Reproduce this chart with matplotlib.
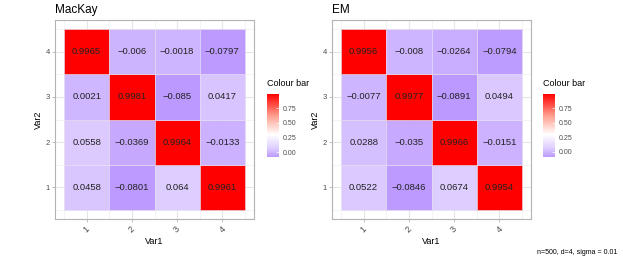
import numpy as np
import matplotlib
matplotlib.use('Agg')
import matplotlib.pyplot as plt
from matplotlib.colors import LinearSegmentedColormap, Normalize
from matplotlib.patches import Rectangle

plt.rcParams['font.family'] = ['Liberation Sans', 'DejaVu Sans']

var1 = [1, 2, 3, 4]
var2 = [1, 2, 3, 4]

# rows are Var2 = 1..4, columns are Var1 = 1..4
mackay = [
    [0.0458, -0.0801, 0.064, 0.9961],
    [0.0558, -0.0369, 0.9964, -0.0133],
    [0.0021, 0.9981, -0.085, 0.0417],
    [0.9965, -0.006, -0.0018, -0.0797],
]
em = [
    [0.0522, -0.0846, 0.0674, 0.9954],
    [0.0288, -0.035, 0.9966, -0.0151],
    [-0.0077, 0.9977, -0.0891, 0.0494],
    [0.9956, -0.008, -0.0264, -0.0794],
]
titles = ['MacKay', 'EM']
caption = 'n=500, d=4, sigma = 0.01'
bar_ticks = [0.0, 0.25, 0.5, 0.75]


def make_cmap(vmin, vmax):
    # purple -> white -> red, anchored on data values
    nodes = [(vmin, '#BB99FF'), (0.06, '#DDCCFF'), (0.3, '#FFFFFF'),
             (0.62, '#FFA08F'), (vmax, '#FF0000')]
    pos = [(v - vmin) / (vmax - vmin) for v, c in nodes]
    return LinearSegmentedColormap.from_list('cb', list(zip(pos, [c for v, c in nodes])))


fig = plt.figure(figsize=(6.23, 2.6), dpi=100)

panel_left = [55 / 623, 332 / 623]
bar_left = [267 / 623, 543 / 623]

for k, mat in enumerate([mackay, em]):
    m = np.array(mat)
    vmin, vmax = m.min(), m.max()
    cmap = make_cmap(vmin, vmax)
    norm = Normalize(vmin, vmax)

    ax = fig.add_axes([panel_left[k], 41 / 260, 199 / 623, 199 / 260])
    for i, y in enumerate(var2):
        for j, x in enumerate(var1):
            v = m[i, j]
            ax.add_patch(Rectangle((x - 0.5, y - 0.5), 1, 1, facecolor=cmap(norm(v)),
                                   edgecolor='#E6E0F0', linewidth=0.4, zorder=2))
            ax.text(x, y, f'{v:g}'.replace('-', '\u2212'), ha='center', va='center',
                    fontsize=6.8, color='#222222', zorder=3)
    ax.set_xlim(0.3, 4.7)
    ax.set_ylim(0.3, 4.7)
    ax.set_xticks(var1)
    ax.set_yticks(var2)
    ax.set_xticks([0.5, 1.5, 2.5, 3.5, 4.5], minor=True)
    ax.set_yticks([0.5, 1.5, 2.5, 3.5, 4.5], minor=True)
    ax.grid(which='major', color='#E6E6E6', linewidth=0.8, zorder=0)
    ax.grid(which='minor', color='#F0F0F0', linewidth=0.5, zorder=0)
    ax.set_axisbelow(True)
    ax.tick_params(which='minor', length=0)
    ax.tick_params(which='major', length=2, width=0.6, color='#B3B3B3',
                   labelsize=5.5, labelcolor='#4D4D4D', pad=1.5)
    ax.tick_params(axis='x', labelsize=6.5, pad=2)
    for lab in ax.get_xticklabels():
        lab.set_rotation(45)
        lab.set_ha('center')
    for s in ax.spines.values():
        s.set_color('#B3B3B3')
        s.set_linewidth(0.8)
    ax.set_xlabel('Var1', fontsize=6.5, labelpad=2)
    ax.set_ylabel('Var2', fontsize=6.5, labelpad=2)
    ax.set_title(titles[k], loc='left', fontsize=8.5, pad=5)

    cax = fig.add_axes([bar_left[k], 103 / 260, 12 / 623, 63 / 260])
    sm = plt.cm.ScalarMappable(norm=norm, cmap=cmap)
    cb = fig.colorbar(sm, cax=cax, ticks=bar_ticks)
    cb.outline.set_visible(False)
    cb.ax.tick_params(labelsize=5, labelcolor='#4D4D4D', length=2, width=0.5,
                      color='white', direction='in', pad=3)
    cb.ax.set_yticklabels([f'{t:.2f}' for t in bar_ticks])
    fig.text(bar_left[k], 172 / 260, 'Colour bar', fontsize=6.5, ha='left', va='bottom')

fig.text(617 / 623, 7 / 260, caption, fontsize=5, ha='right', va='center')

fig.savefig('out.png', dpi=100)
